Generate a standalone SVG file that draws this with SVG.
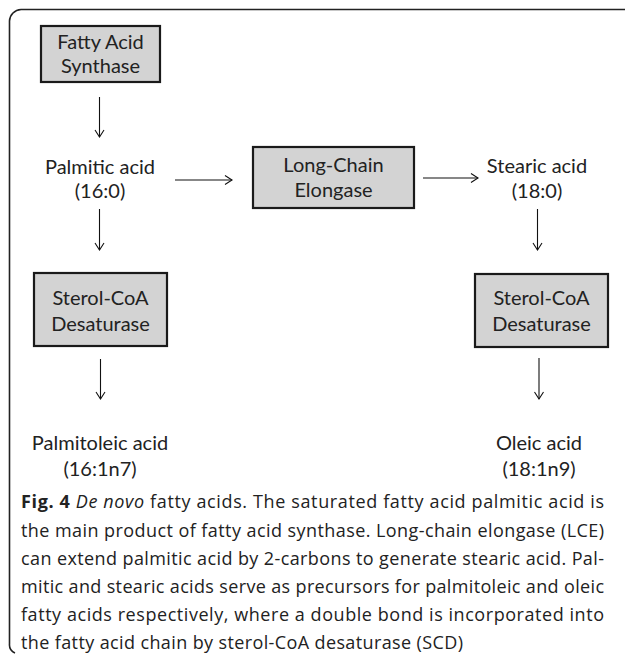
<svg xmlns="http://www.w3.org/2000/svg" width="625" height="655" viewBox="0 0 625 655">
<defs>
<style>
.box{fill:#d3d3d3;stroke:#1a1a1a;stroke-width:2.2}
.lbl{font-family:Lato,"Open Sans",sans-serif;font-size:20px;fill:#222;text-anchor:middle}
.cap{font-family:"Open Sans","Liberation Sans",sans-serif;font-size:18px;fill:#222}
.con line{stroke:#111;stroke-width:1.1}
.con path{fill:none;stroke:#111;stroke-width:1.1}
</style>
</defs>
<rect width="625" height="655" fill="#fff"/>
<path d="M625,9.5 H21 A12 12 0 0 0 9.5,21 V644 A9 9 0 0 0 15,653" fill="none" stroke="#222" stroke-width="1.6"/>

<g id="fas">
<rect class="box" x="41" y="26" width="119" height="56"/>
<text class="lbl" x="100.5" y="49">Fatty Acid</text>
<text class="lbl" x="100.5" y="73">Synthase</text>
</g>
<g id="palmitic">
<text class="lbl" x="100" y="174">Palmitic acid</text>
<text class="lbl" x="100" y="198">(16:0)</text>
</g>
<g id="lce">
<rect class="box" x="253" y="147" width="161" height="61"/>
<text class="lbl" x="333.5" y="172">Long-Chain</text>
<text class="lbl" x="333.5" y="197">Elongase</text>
</g>
<g id="stearic">
<text class="lbl" x="537" y="173">Stearic acid</text>
<text class="lbl" x="537" y="198">(18:0)</text>
</g>
<g id="scd1">
<rect class="box" x="34" y="273" width="133" height="73"/>
<text class="lbl" x="100.5" y="305">Sterol-CoA</text>
<text class="lbl" x="100.5" y="331">Desaturase</text>
</g>
<g id="scd2">
<rect class="box" x="475" y="274" width="133" height="73"/>
<text class="lbl" x="541.5" y="305">Sterol-CoA</text>
<text class="lbl" x="541.5" y="331">Desaturase</text>
</g>
<g id="palmitoleic">
<text class="lbl" x="100" y="450">Palmitoleic acid</text>
<text class="lbl" x="100" y="476">(16:1n7)</text>
</g>
<g id="oleic">
<text class="lbl" x="539" y="450">Oleic acid</text>
<text class="lbl" x="539" y="476">(18:1n9)</text>
</g>

<g id="connectors" class="con">
<line x1="99.5" y1="97" x2="99.5" y2="137"/>
<path d="M95,130 L99.5,137 L104,130"/>
<line x1="175" y1="180" x2="232" y2="180"/>
<path d="M225,175.5 L232,180 L225,184.5"/>
<line x1="423" y1="178" x2="478" y2="178"/>
<path d="M471,173.5 L478,178 L471,182.5"/>
<line x1="99.5" y1="209" x2="99.5" y2="250"/>
<path d="M95,243 L99.5,250 L104,243"/>
<line x1="537.5" y1="209" x2="537.5" y2="250"/>
<path d="M533,243 L537.5,250 L542,243"/>
<line x1="100.5" y1="359" x2="100.5" y2="399"/>
<path d="M96,392 L100.5,399 L105,392"/>
<line x1="539" y1="358" x2="539" y2="399"/>
<path d="M534.5,392 L539,399 L543.5,392"/>
</g>

<g id="caption" class="cap">
<text x="21" y="508" textLength="583" lengthAdjust="spacing"><tspan font-weight="bold">Fig. 4</tspan> <tspan font-style="italic">De novo</tspan> fatty acids. The saturated fatty acid palmitic acid is</text>
<text x="21" y="537" textLength="583" lengthAdjust="spacing">the main product of fatty acid synthase. Long-chain elongase (LCE)</text>
<text x="21" y="565" textLength="583" lengthAdjust="spacing">can extend palmitic acid by 2-carbons to generate stearic acid. Pal-</text>
<text x="21" y="593" textLength="583" lengthAdjust="spacing">mitic and stearic acids serve as precursors for palmitoleic and oleic</text>
<text x="21" y="621" textLength="583" lengthAdjust="spacing">fatty acids respectively, where a double bond is incorporated into</text>
<text x="21" y="649" textLength="442" lengthAdjust="spacing">the fatty acid chain by sterol-CoA desaturase (SCD)</text>
</g>
</svg>
